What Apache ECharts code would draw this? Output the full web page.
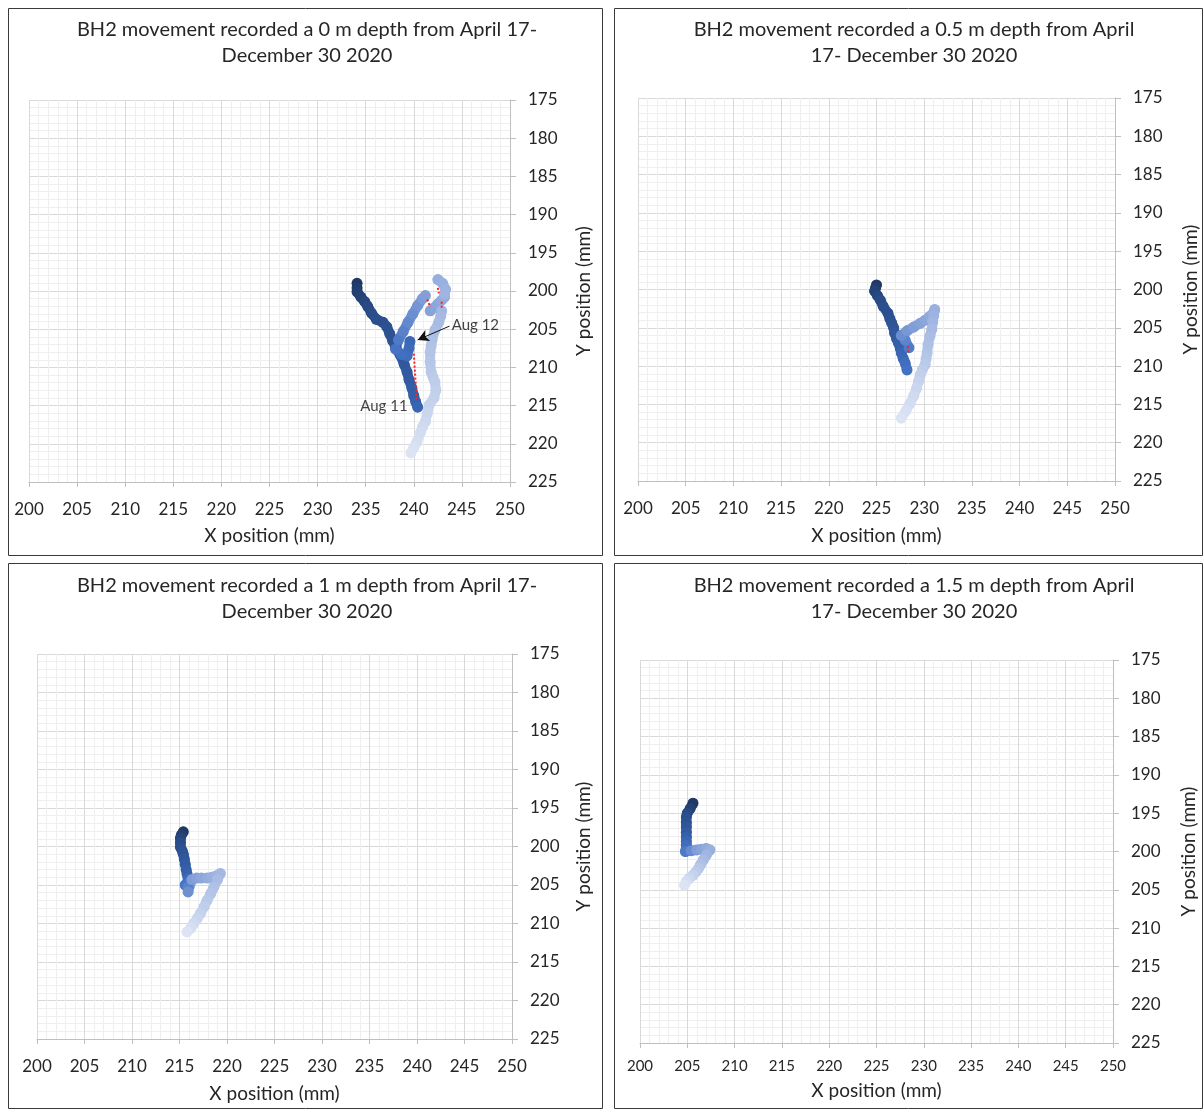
<!DOCTYPE html>
<html><head><meta charset="utf-8">
<script src="https://cdn.jsdelivr.net/npm/echarts/dist/echarts.min.js"></script>
<style>html,body{margin:0;padding:0;background:#fff}#c{width:1203px;height:1110px}</style>
</head><body><div id="c"></div><script>
// ---- tick labels ----
const X_TICKS = [200,205,210,215,220,225,230,235,240,245,250];
const Y_TICKS = [175,180,185,190,195,200,205,210,215,220,225];

// ---- trajectories (x mm, y mm), in time order; null = jump in the record ----
const path0m = [
 [234.1,199.0],[234.1,199.6],[234.1,200.1],[234.5,200.8],[234.9,201.4],[235.2,202.0],[235.6,202.9],[236.1,203.7],
 [236.8,204.1],[237.2,204.7],[237.5,205.6],[237.8,206.5],[238.1,207.3],[238.6,208.4],[239.0,209.6],[239.3,210.6],
 [239.5,211.6],[239.8,212.7],[240.0,213.7],[240.2,214.5],[240.4,215.2],
 null,
 [239.6,206.6],[239.5,207.5],[239.3,208.5],[238.7,208.3],[238.1,207.6],[238.4,206.4],[238.9,205.3],[239.4,204.1],
 [239.9,203.0],[240.4,201.9],[240.9,201.0],[241.2,200.6],
 null,
 [241.7,202.6],[242.1,202.2],[242.5,201.7],[242.9,201.2],[243.2,200.8],
 null,
 [242.5,198.5],[243.0,199.0],[243.3,199.8],[243.2,200.4],
 null,
 [242.9,202.6],[242.8,203.3],
 [242.6,204.1],[242.2,205.1],[241.9,206.4],[241.8,207.2],[241.7,208.0],[241.7,209.3],[241.8,210.6],[242.0,211.3],
 [242.2,211.9],[242.3,213.0],[242.1,214.0],[241.6,214.9],[241.4,216.0],[241.2,217.1],[240.9,217.8],[240.7,218.5],
 [240.3,219.8],[240.0,220.5],[239.7,221.2]
];
const path05m = [
 [225.0,199.4],[224.9,199.8],[224.8,200.2],[225.1,200.8],[225.4,201.4],[225.7,202.2],[226.2,203.1],[226.4,203.8],
 [226.6,204.4],[226.8,205.0],[226.9,205.7],[227.1,206.4],[227.3,207.0],[227.5,207.7],[227.6,208.3],[227.8,209.0],
 [228.0,209.6],[228.2,210.5],
 null,
 [228.4,207.6],[228.0,206.6],[227.6,206.0],[228.2,205.4],[228.9,204.9],[229.6,204.4],[230.1,204.0],[230.6,203.5],
 [231.0,203.0],[231.1,202.6],
 [231.0,203.4],[230.9,204.2],[230.8,205.2],[230.6,206.1],[230.4,207.2],[230.3,208.3],[230.2,209.0],[230.1,209.8],
 [229.8,210.5],[229.6,211.1],[229.4,212.0],[229.2,212.9],[228.9,213.9],[228.5,214.9],[228.1,215.8],[227.6,216.8]
];
const path1m = [
 [215.4,198.1],[215.2,198.5],[215.1,198.9],[215.1,199.5],[215.1,200.1],[215.3,200.6],[215.4,201.0],[215.5,201.6],
 [215.6,202.3],[215.7,203.0],[215.8,203.6],[215.9,204.2],[215.9,204.6],[215.6,205.0],[215.9,205.3],[215.9,205.9],
 [216.3,204.3],[216.8,204.1],[217.3,204.1],[217.9,204.1],[218.4,204.0],[218.9,203.8],[219.3,203.5],
 [219.0,204.3],[218.6,205.3],[218.3,206.1],[217.9,207.0],[217.6,207.8],[217.2,208.7],[216.9,209.3],[216.5,210.0],
 [216.2,210.6],[215.8,211.1]
];
const path15m = [
 [205.6,193.7],[205.3,194.4],[205.0,195.0],[204.9,195.5],[204.9,196.2],[204.9,196.8],[204.9,197.5],[204.9,198.1],
 [204.9,198.7],[204.9,199.2],[204.8,200.0],
 [205.4,199.9],[206.0,199.8],[206.5,199.7],[207.0,199.6],[207.4,199.8],
 [207.0,200.5],[206.7,201.1],[206.4,201.7],[206.2,202.2],[205.9,202.7],[205.6,203.1],[205.2,203.5],[204.9,203.9],[204.7,204.4]
];

// ---- data gaps (red dotted) ----
const gaps0m = [
 [[240.0,208.2],[240.3,214.2]],
 [[241.4,201.1],[241.7,202.1]],
 [[242.5,199.6],[242.6,200.3]],
 [[242.9,201.4],[242.9,202.2]]
];
const gaps05m = [ [[228.3,207.4],[228.3,208.4]] ];
const gaps1m = [];
const gaps15m = [];

// ---- annotations (panel 0 m) ----
const notes0m = [ {name:'Aug 11', value:[236.9,215.05]}, {name:'Aug 12', value:[246.4,204.45]} ];
const arrow0m = [[243.7,204.6],[240.4,206.4]];

const titles = [
 ['BH2 movement recorded a 0 m depth from April 17-','December 30 2020'],
 ['BH2 movement recorded a 0.5 m depth from April','17- December 30 2020'],
 ['BH2 movement recorded a 1 m depth from April 17-','December 30 2020'],
 ['BH2 movement recorded a 1.5 m depth from April','17- December 30 2020']
];

const GRAD = ['#1f3864','#2a4d8a','#2f5597','#3560ab','#4472c4','#7f9dd6','#94addd','#a6bae3','#b7c8e8','#c9d5ee','#dce4f4'];
const FONT = 'Lato, "Open Sans", sans-serif';
const TXT = '#262626';

const layout = [
 {box:[8,8,594,547], tx:307, ty:[30,56], grid:{left:29,top:100,width:481,height:382}, xLab:17, xMargin:19, xGap:44, yGap:64},
 {box:[614,8,588,547], tx:914, ty:[30,56], grid:{left:638,top:98,width:477,height:383}, xLab:17, xMargin:19, xGap:45, yGap:66},
 {box:[8,563,594,545], tx:307, ty:[586,612], grid:{left:37,top:654,width:475,height:385}, xLab:17, xMargin:19, xGap:45, yGap:62},
 {box:[614,563,588,545], tx:914, ty:[586,612], grid:{left:640,top:660,width:473,height:383}, xLab:15, xMargin:16, xGap:38, yGap:66}
];
const paths = [path0m, path05m, path1m, path15m];
const gaps = [gaps0m, gaps05m, gaps1m, gaps15m];

function buildPoints(p){
  // [x, y, order, prevX, prevY]
  const out=[]; let k=0, prev=null;
  p.forEach(pt=>{
    if(pt===null){ prev=null; return; }
    out.push([pt[0],pt[1],k, prev?prev[0]:NaN, prev?prev[1]:NaN]);
    prev=pt; k++;
  });
  return out;
}

const grids=[], xAxes=[], yAxes=[], series=[], visualMaps=[], graphics=[];
layout.forEach((L,i)=>{
  graphics.push({type:'rect', shape:{x:L.box[0]+0.5,y:L.box[1]+0.5,width:L.box[2],height:L.box[3]}, style:{fill:'none',stroke:'#3a3a3a',lineWidth:1}, silent:true});
  titles[i].forEach((t,k)=>graphics.push({type:'text', x:L.tx, y:L.ty[k], style:{text:t, textAlign:'center', textVerticalAlign:'middle', font:'20px '+FONT, fill:TXT}, silent:true}));
  grids.push(Object.assign({containLabel:false}, L.grid));
  xAxes.push({gridIndex:i, type:'value', min:X_TICKS[0], max:X_TICKS[X_TICKS.length-1], interval:X_TICKS[1]-X_TICKS[0],
    axisLine:{show:true,onZero:false,lineStyle:{color:'#bfbfbf'}},
    axisTick:{show:true,length:5,lineStyle:{color:'#bfbfbf'}},
    axisLabel:{fontSize:L.xLab,color:TXT,margin:L.xMargin,fontFamily:FONT},
    splitLine:{show:true,lineStyle:{color:'#d9d9d9'}},
    minorTick:{show:false,splitNumber:5},
    minorSplitLine:{show:true,lineStyle:{color:'#efefef'}},
    name:'X position (mm)', nameLocation:'middle', nameGap:L.xGap,
    nameTextStyle:{fontSize:19,color:TXT,fontFamily:FONT}});
  yAxes.push({gridIndex:i, type:'value', position:'right', inverse:true, min:Y_TICKS[0], max:Y_TICKS[Y_TICKS.length-1], interval:Y_TICKS[1]-Y_TICKS[0],
    axisLine:{show:true,onZero:false,lineStyle:{color:'#bfbfbf'}},
    axisTick:{show:true,length:6,lineStyle:{color:'#bfbfbf'}},
    axisLabel:{fontSize:17,color:TXT,margin:18,fontFamily:FONT},
    splitLine:{show:true,lineStyle:{color:'#d9d9d9'}},
    minorTick:{show:false,splitNumber:5},
    minorSplitLine:{show:true,lineStyle:{color:'#efefef'}},
    name:'Y position (mm)', nameLocation:'middle', nameGap:L.yGap, nameRotate:90,
    nameTextStyle:{fontSize:19,color:TXT,fontFamily:FONT}});
  const pts = buildPoints(paths[i]);
  const sIdxSeg = series.length;
  // connecting strokes between consecutive records
  series.push({type:'custom', xAxisIndex:i, yAxisIndex:i, z:2, animation:false, silent:true,
    encode:{x:0,y:1}, data:pts,
    renderItem:function(params, api){
      const px=api.value(3), py=api.value(4);
      if(isNaN(px)||isNaN(py)) return null;
      const a=api.coord([px,py]), b=api.coord([api.value(0),api.value(1)]);
      return {type:'line', shape:{x1:a[0],y1:a[1],x2:b[0],y2:b[1]},
        style:{stroke:api.visual('color'), lineWidth:10, lineCap:'round', fill:null}};
    }});
  series.push({type:'scatter', xAxisIndex:i, yAxisIndex:i, symbol:'circle', symbolSize:11, z:3,
    itemStyle:{opacity:1}, data:pts.map(d=>[d[0],d[1],d[2]]), animation:false});
  visualMaps.push({type:'continuous', show:false, seriesIndex:[sIdxSeg, sIdxSeg+1], dimension:2, min:0, max:pts.length-1, inRange:{color:GRAD}});
  gaps[i].forEach(g=>series.push({type:'line', xAxisIndex:i, yAxisIndex:i, data:g, symbol:'none', z:5, animation:false,
    lineStyle:{color:'#ff2020',width:2,type:[2,2]}}));
});
// annotations on first panel
series.push({type:'scatter', xAxisIndex:0, yAxisIndex:0, symbolSize:1, z:6, animation:false,
  itemStyle:{color:'rgba(0,0,0,0)'},
  label:{show:true, position:'inside', formatter:p=>p.name, fontSize:15, color:'#111', fontFamily:FONT},
  data:notes0m,
  markLine:{silent:true, symbol:['none','arrow'], symbolSize:[9,11], animation:false,
    lineStyle:{color:'#111',width:1,type:'solid'}, label:{show:false},
    data:[[{coord:arrow0m[0]},{coord:arrow0m[1]}]]}});

const chart = echarts.init(document.getElementById('c'), null, {renderer:'canvas'});
chart.setOption({backgroundColor:'#fff', animation:false, grid:grids, xAxis:xAxes, yAxis:yAxes, visualMap:visualMaps, series:series, graphic:graphics});
</script></body></html>
